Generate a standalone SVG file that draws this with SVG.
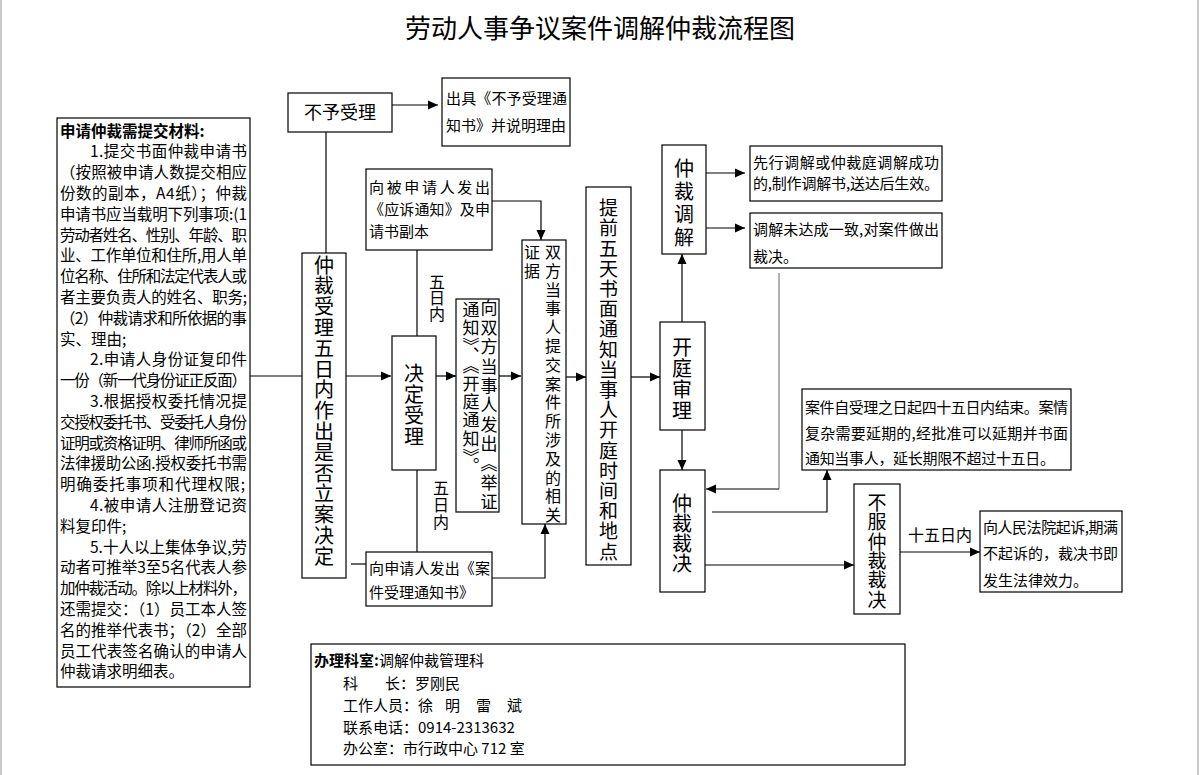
<svg xmlns="http://www.w3.org/2000/svg" width="1200" height="775" viewBox="0 0 1200 775">
<style>
.bg{fill:#fff}
.box{fill:#fff;stroke:#000;stroke-width:1.2}
.t{font-family:"Noto Sans CJK SC","Noto Sans CJK JP",sans-serif;font-size:15px;fill:#000}
.lb{font-family:"Noto Sans CJK SC","Noto Sans CJK JP",sans-serif;font-size:15.5px;fill:#000}
.b{font-weight:bold}
.v{font-family:"Noto Sans CJK SC","Noto Sans CJK JP",sans-serif;fill:#000;writing-mode:vertical-rl}
.ln{fill:none;stroke:#000;stroke-width:1.2}
.gray{stroke:#808080}
.edge{stroke:#c8c8c8;stroke-width:2}
</style>
<defs>
<marker id="arr" markerWidth="10" markerHeight="10" refX="10" refY="5" orient="auto" markerUnits="userSpaceOnUse">
<path d="M0,0.5 L10,5 L0,9.5 z" fill="#000"/>
</marker>
</defs>
<rect class="bg" x="0" y="0" width="1200" height="775"/>
<line class="edge" x1="1" y1="0" x2="1" y2="775"/>
<line class="edge" x1="1198" y1="0" x2="1198" y2="775"/>

<text x="600" y="38" text-anchor="middle" style="font-family:'Noto Sans CJK SC',sans-serif;font-size:26px;fill:#000">劳动人事争议案件调解仲裁流程图</text>

<g id="connectors">
<line class="ln" x1="250" y1="376" x2="302" y2="376"/>
<line class="ln" x1="326" y1="132" x2="326" y2="253"/>
<line class="ln" x1="392" y1="105" x2="438" y2="105" marker-end="url(#arr)"/>
<line class="ln" x1="346" y1="376" x2="391" y2="376" marker-end="url(#arr)"/>
<line class="ln" x1="436" y1="376" x2="456" y2="376" marker-end="url(#arr)"/>
<line class="ln" x1="499" y1="376" x2="521" y2="376" marker-end="url(#arr)"/>
<line class="ln" x1="566" y1="377" x2="586" y2="377" marker-end="url(#arr)"/>
<polyline class="ln" points="492,201 541,201 541,240" marker-end="url(#arr)"/>
<line class="ln" x1="417" y1="250" x2="417" y2="336"/>
<line class="ln" x1="417" y1="470" x2="417" y2="552"/>
<line class="ln" x1="351" y1="564" x2="366" y2="564"/>
<polyline class="ln" points="492,578 545,578 545,524" marker-end="url(#arr)"/>
<line class="ln" x1="631" y1="377" x2="660" y2="377" marker-end="url(#arr)"/>
<line class="ln" x1="682" y1="322" x2="682" y2="254" marker-end="url(#arr)"/>
<line class="ln" x1="706" y1="173" x2="745" y2="173" marker-end="url(#arr)"/>
<line class="ln" x1="706" y1="228" x2="745" y2="228" marker-end="url(#arr)"/>
<line class="ln" x1="682" y1="430" x2="682" y2="470" marker-end="url(#arr)"/>
<line class="ln gray" x1="779" y1="273" x2="779" y2="489"/>
<line class="ln" x1="779" y1="489" x2="706" y2="489" marker-end="url(#arr)"/>
<polyline class="ln" points="712,512 827,512 827,470" marker-end="url(#arr)"/>
<line class="ln" x1="705" y1="565" x2="854" y2="565" marker-end="url(#arr)"/>
<line class="ln" x1="900" y1="552" x2="980" y2="552" marker-end="url(#arr)"/>
<text class="t" x="940" y="541" text-anchor="middle" style="font-size:16px">十五日内</text>
<text class="v" x="437" y="274" style="font-size:16px">五日内</text>
<text class="v" x="441" y="480" style="font-size:16px;letter-spacing:1px">五日内</text>
</g>

<g id="materials">
<rect class="box" x="57" y="118" width="193" height="569"/>
<text class="lb b" x="60" y="136.5">申请仲裁需提交材料:</text>
<text class="lb" x="90" y="157.3" textLength="157" lengthAdjust="spacing">1.提交书面仲裁申请书</text>
<text class="lb" x="60" y="178.1" textLength="187" lengthAdjust="spacing">（按照被申请人数提交相应</text>
<text class="lb" x="60" y="198.9" textLength="187" lengthAdjust="spacing">份数的副本，A4纸）；仲裁</text>
<text class="lb" x="60" y="219.7" textLength="187" lengthAdjust="spacing">申请书应当载明下列事项:(1</text>
<text class="lb" x="60" y="240.5" textLength="187" lengthAdjust="spacing">劳动者姓名、性别、年龄、职</text>
<text class="lb" x="60" y="261.3" textLength="187" lengthAdjust="spacing">业、工作单位和住所,用人单</text>
<text class="lb" x="60" y="282.1" textLength="187" lengthAdjust="spacing">位名称、住所和法定代表人或</text>
<text class="lb" x="60" y="302.9" textLength="187" lengthAdjust="spacing">者主要负责人的姓名、职务;</text>
<text class="lb" x="60" y="323.7" textLength="187" lengthAdjust="spacing">（2）仲裁请求和所依据的事</text>
<text class="lb" x="60" y="344.5">实、理由;</text>
<text class="lb" x="90" y="365.3" textLength="157" lengthAdjust="spacing">2.申请人身份证复印件</text>
<text class="lb" x="60" y="386.1" textLength="187" lengthAdjust="spacing">一份（新一代身份证正反面）</text>
<text class="lb" x="90" y="406.9" textLength="157" lengthAdjust="spacing">3.根据授权委托情况提</text>
<text class="lb" x="60" y="427.7" textLength="187" lengthAdjust="spacing">交授权委托书、受委托人身份</text>
<text class="lb" x="60" y="448.5" textLength="187" lengthAdjust="spacing">证明或资格证明、律师所函或</text>
<text class="lb" x="60" y="469.3" textLength="187" lengthAdjust="spacing">法律援助公函.授权委托书需</text>
<text class="lb" x="60" y="490.1" textLength="185" lengthAdjust="spacing">明确委托事项和代理权限;</text>
<text class="lb" x="90" y="510.9" textLength="157" lengthAdjust="spacing">4.被申请人注册登记资</text>
<text class="lb" x="60" y="531.7">料复印件;</text>
<text class="lb" x="90" y="552.5" textLength="157" lengthAdjust="spacing">5.十人以上集体争议,劳</text>
<text class="lb" x="60" y="573.3" textLength="187" lengthAdjust="spacing">动者可推举3至5名代表人参</text>
<text class="lb" x="60" y="594.1" textLength="187" lengthAdjust="spacing">加仲裁活动。除以上材料外，</text>
<text class="lb" x="60" y="614.9" textLength="187" lengthAdjust="spacing">还需提交：（1）员工本人签</text>
<text class="lb" x="60" y="635.7" textLength="187" lengthAdjust="spacing">名的推举代表书；（2）全部</text>
<text class="lb" x="60" y="656.5" textLength="187" lengthAdjust="spacing">员工代表签名确认的申请人</text>
<text class="lb" x="60" y="677.3">仲裁请求明细表。</text>
</g>

<g id="reject">
<rect class="box" x="288" y="93" width="104" height="39"/>
<text class="t" x="340" y="118.5" text-anchor="middle" style="font-size:18px">不予受理</text>
</g>

<g id="reject-notice">
<rect class="box" x="442" y="78" width="128" height="68"/>
<text class="t" x="446" y="103.5" textLength="121" lengthAdjust="spacing">出具《不予受理通</text>
<text class="t" x="446" y="130.5">知书》并说明理由</text>
</g>

<g id="respondent-notice">
<rect class="box" x="366" y="169" width="126" height="81"/>
<text class="t" x="369" y="192.5" textLength="121" lengthAdjust="spacing">向被申请人发出</text>
<text class="t" x="369" y="214.5" textLength="121" lengthAdjust="spacing">《应诉通知》及申</text>
<text class="t" x="369" y="236.5">请书副本</text>
</g>

<g id="accept-decision">
<rect class="box" x="302" y="253" width="44" height="325"/>
<text class="v" x="324" y="255" style="font-size:20px;letter-spacing:0.8px">仲裁受理五日内作出是否立案决定</text>
</g>

<g id="accept">
<rect class="box" x="392" y="336" width="44" height="134"/>
<text class="v" x="414" y="363" style="font-size:20px;letter-spacing:1px">决定受理</text>
</g>

<g id="evidence-notice">
<rect class="box" x="456" y="299" width="43" height="213"/>
<text class="v" x="489" y="299.5" style="font-size:17px;letter-spacing:2.4px">向双方当事人发出《举证</text>
<text class="v" x="471" y="301" style="font-size:17px;letter-spacing:1.2px">通知》、《开庭通知》。</text>
</g>

<g id="evidence">
<rect class="box" x="522" y="240" width="44" height="284"/>
<text class="v" x="553" y="244" style="font-size:16px;letter-spacing:2.8px">双方当事人提交案件所涉及的相关</text>
<text class="v" x="532" y="244" style="font-size:16px;letter-spacing:2.8px">证据</text>
</g>

<g id="applicant-notice">
<rect class="box" x="366" y="552" width="126" height="54"/>
<text class="t" x="369" y="573.5" textLength="121" lengthAdjust="spacing">向申请人发出《案</text>
<text class="t" x="369" y="597.5">件受理通知书》</text>
</g>

<g id="hearing-notice">
<rect class="box" x="586" y="187" width="45" height="378"/>
<text class="v" x="608.5" y="198.5" style="font-size:19px;letter-spacing:1.2px">提前五天书面通知当事人开庭时间和地点</text>
</g>

<g id="mediation">
<rect class="box" x="662" y="145" width="44" height="109"/>
<text class="v" x="684" y="158" style="font-size:20px;letter-spacing:3px">仲裁调解</text>
</g>

<g id="hearing">
<rect class="box" x="660" y="322" width="45" height="108"/>
<text class="v" x="682" y="337" style="font-size:20px;letter-spacing:1px">开庭审理</text>
</g>

<g id="mediation-success">
<rect class="box" x="750" y="146" width="192" height="55"/>
<text class="t" x="753" y="167.5" textLength="186" lengthAdjust="spacing">先行调解或仲裁庭调解成功</text>
<text class="t" x="753" y="188.5" textLength="186" lengthAdjust="spacing">的,制作调解书,送达后生效。</text>
</g>

<g id="mediation-fail">
<rect class="box" x="750" y="213" width="192" height="55"/>
<text class="t" x="753" y="235" textLength="186" lengthAdjust="spacing">调解未达成一致,对案件做出</text>
<text class="t" x="753" y="262">裁决。</text>
</g>

<g id="award">
<rect class="box" x="660" y="470" width="45" height="122"/>
<text class="v" x="682" y="493" style="font-size:20px">仲裁裁决</text>
</g>

<g id="time-limit">
<rect class="box" x="802" y="389" width="269" height="81"/>
<text class="t" x="805" y="412.5" textLength="263" lengthAdjust="spacing">案件自受理之日起四十五日内结束。案情</text>
<text class="t" x="805" y="438.5" textLength="263" lengthAdjust="spacing">复杂需要延期的,经批准可以延期并书面</text>
<text class="t" x="805" y="463.5" textLength="250" lengthAdjust="spacing">通知当事人，延长期限不超过十五日。</text>
</g>

<g id="disagree">
<rect class="box" x="854" y="484" width="46" height="130"/>
<text class="v" x="877" y="493" style="font-size:19px;letter-spacing:0.4px">不服仲裁裁决</text>
</g>

<g id="court">
<rect class="box" x="980" y="511" width="142" height="81"/>
<text class="t" x="983" y="532.5" textLength="135" lengthAdjust="spacing">向人民法院起诉,期满</text>
<text class="t" x="983" y="558.5" textLength="135" lengthAdjust="spacing">不起诉的，裁决书即</text>
<text class="t" x="983" y="585.5">发生法律效力。</text>
</g>

<g id="office">
<rect class="box" x="311" y="644" width="594" height="121"/>
<text class="t" x="314" y="665.5"><tspan class="b">办理科室:</tspan><tspan>调解仲裁管理科</tspan></text>
<text class="t" y="688.5"><tspan x="343">科</tspan><tspan x="385">长：罗刚民</tspan></text>
<text class="t" y="710.5"><tspan x="343">工作人员：</tspan><tspan x="418">徐</tspan><tspan x="445">明</tspan><tspan x="476">雷</tspan><tspan x="507">斌</tspan></text>
<text class="t" x="343" y="732.5">联系电话：0914-2313632</text>
<text class="t" x="343" y="753.5">办公室：市行政中心 712 室</text>
</g>
</svg>
